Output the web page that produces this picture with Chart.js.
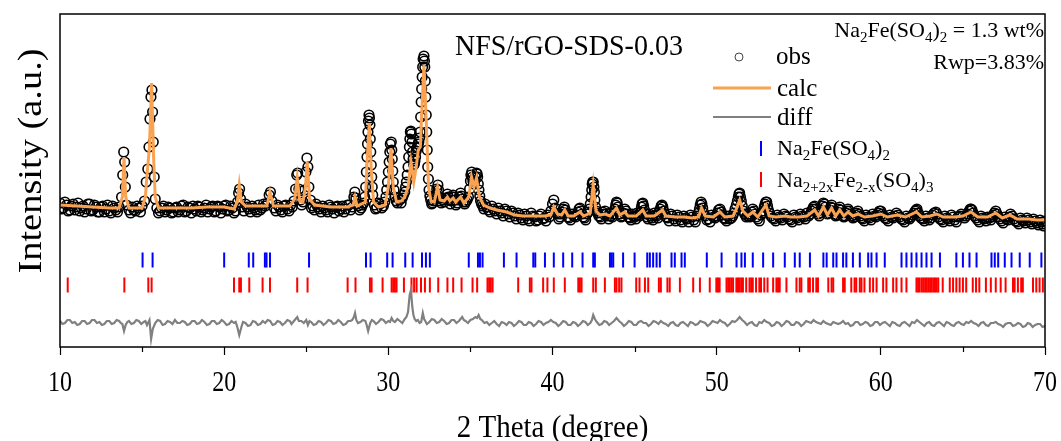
<!DOCTYPE html>
<html>
<head>
<meta charset="utf-8">
<title>NFS/rGO-SDS-0.03 Rietveld</title>
<script src="https://cdn.jsdelivr.net/npm/chart.js@4.4.1/dist/chart.umd.min.js"></script>
<style>
  html, body { margin: 0; padding: 0; background: #fff; }
  #wrap { width: 1061px; height: 441px; }
</style>
</head>
<body>
<div id="wrap"><canvas id="rietveldChart" width="1061" height="441"></canvas></div>
<script>
// ========================
// Données
// ========================

const xTicks = [10, 20, 30, 40, 50, 60, 70];
const xMinorTicks = [15, 25, 35, 45, 55, 65];

// Courbe calculée [2theta, intensité]
const calcPoints = [
  [10.0,142],[11.0,141],[12.0,140],[13.0,139],[13.6,139],[13.8,150],[13.9,190],[14.0,150],[14.2,139],
  [15.0,139],[15.2,150],[15.3,172],[15.45,200],[15.58,264],[15.7,190],[15.8,150],[16.0,139],[17.0,139],
  [18.0,139],[19.0,140],[20.0,140],[20.6,138],[20.8,145],[20.92,162],[21.05,145],[21.3,141],[22.0,141],
  [22.6,141],[22.79,155],[23.0,141],[24.0,141],[24.3,148],[24.45,169],[24.6,146],[24.8,145],[24.95,160],
  [25.06,185],[25.2,148],[25.5,142],[26.5,140],[27.5,140],[27.85,142],[27.97,150],[28.1,141],[28.6,145],
  [28.72,190],[28.84,224],[28.95,180],[29.1,145],[29.4,140],[29.8,142],[30.0,160],[30.16,199],[30.3,160],
  [30.5,145],[30.8,146],[31.0,150],[31.2,160],[31.38,185],[31.55,165],[31.7,180],[31.82,197],[31.95,200],
  [32.05,240],[32.17,282],[32.3,230],[32.45,160],[32.6,146],[32.8,145],[33.0,160],[33.15,147],[33.4,146],
  [33.6,150],[33.75,146],[33.95,149],[34.1,145],[34.4,150],[34.6,144],[34.9,150],[35.07,170],[35.22,160],
  [35.37,169],[35.55,150],[35.8,142],[36.2,139],[36.6,137],[37.2,135],[37.7,132],[38.2,131],[38.6,131],
  [39.0,131],[39.5,131],[39.9,132],[40.08,140],[40.3,133],[40.55,132],[40.75,137],[40.95,131],[41.3,131],
  [41.67,135],[41.9,131],[42.3,134],[42.48,162],[42.65,136],[42.9,132],[43.2,133],[43.5,131],[43.9,139],
  [44.1,132],[44.4,135],[44.6,131],[45.1,131],[45.5,137],[45.7,131],[46.2,131],[46.7,137],[46.9,131],
  [47.5,130],[48.0,130],[48.5,129],[48.9,130],[49.08,139],[49.3,131],[49.8,130],[50.2,135],[50.5,130],
  [51.0,131],[51.2,138],[51.4,147],[51.6,136],[51.9,131],[52.2,135],[52.5,130],[53.0,142],[53.2,131],
  [53.6,130],[54.2,131],[54.5,130],[55.0,130],[55.5,131],[55.97,137],[56.2,131],[56.5,140],[56.75,132],
  [57.0,139],[57.25,131],[57.5,137],[57.75,131],[58.0,135],[58.3,131],[58.6,133],[59.0,130],[59.5,131],
  [60.0,133],[60.4,130],[61.0,132],[61.5,130],[62.17,135],[62.5,130],[63.0,131],[63.4,133],[63.8,130],
  [64.5,130],[65.0,131],[65.5,135],[65.9,130],[66.5,130],[67.0,134],[67.4,129],[67.86,132],[68.3,128],
  [69.0,128],[69.5,127],[70.0,127]
];

// Points observés [2theta, intensité]
const obsPoints = [
  [10.0,144],[10.1,138],[10.2,139],[10.3,145],[10.4,142],[10.5,136],[10.6,137],[10.7,141],[10.8,143],
  [10.9,137],[11.0,140],[11.1,144],[11.2,136],[11.3,139],[11.4,141],[11.5,135],[11.6,138],[11.7,143],
  [11.8,143],[11.9,136],[12.0,137],[12.1,142],[12.2,140],[12.3,135],[12.4,135],[12.5,140],[12.6,141],
  [12.7,135],[12.8,138],[12.9,142],[13.0,136],[13.1,134],[13.2,141],[13.3,139],[13.4,137],[13.5,135],
  [13.6,140],[13.75,150],[13.82,172],[13.88,195],[13.94,185],[13.98,160],[14.05,142],[14.2,137],[14.3,134],
  [14.4,140],[14.5,137],[14.6,136],[14.7,141],[14.8,139],[14.9,135],[15.0,141],[15.15,146],[15.25,165],
  [15.35,178],[15.42,200],[15.48,228],[15.54,250],[15.6,257],[15.64,235],[15.68,205],[15.74,170],[15.8,148],
  [15.9,139],[16.0,134],[16.1,136],[16.2,139],[16.3,141],[16.4,135],[16.5,137],[16.6,140],[16.7,139],
  [16.8,134],[16.9,135],[17.0,139],[17.1,140],[17.2,135],[17.3,137],[17.4,141],[17.5,142],[17.6,135],
  [17.7,136],[17.8,140],[17.9,139],[18.0,134],[18.1,141],[18.2,138],[18.3,136],[18.4,141],[18.5,140],
  [18.6,135],[18.7,137],[18.8,139],[18.9,142],[19.0,135],[19.1,138],[19.2,140],[19.3,141],[19.4,135],
  [19.5,136],[19.6,141],[19.7,140],[19.8,134],[19.9,138],[20.0,141],[20.1,142],[20.2,136],[20.3,137],
  [20.4,141],[20.5,139],[20.6,134],[20.7,136],[20.82,145],[20.88,154],[20.94,158],[21.0,148],[21.1,140],
  [21.2,136],[21.3,143],[21.4,140],[21.5,138],[21.6,135],[21.7,141],[21.8,139],[21.9,137],[22.0,135],
  [22.1,142],[22.2,137],[22.3,139],[22.4,143],[22.5,141],[22.65,144],[22.74,152],[22.82,155],[22.9,146],
  [23.05,139],[23.15,136],[23.25,142],[23.35,140],[23.45,137],[23.55,135],[23.65,141],[23.75,142],
  [23.85,138],[23.95,136],[24.05,142],[24.15,140],[24.25,146],[24.35,158],[24.42,172],[24.48,174],
  [24.55,158],[24.65,147],[24.72,142],[24.8,145],[24.9,157],[24.98,175],[25.04,189],[25.1,180],[25.16,160],
  [25.25,147],[25.32,139],[25.4,141],[25.5,137],[25.6,143],[25.7,140],[25.8,138],[25.9,135],[26.0,141],
  [26.1,139],[26.2,137],[26.3,135],[26.4,142],[26.5,140],[26.6,138],[26.7,134],[26.8,140],[26.9,141],
  [27.0,136],[27.1,138],[27.2,141],[27.3,135],[27.4,138],[27.5,142],[27.6,142],[27.7,137],[27.8,140],
  [27.9,150],[27.96,155],[28.02,149],[28.08,143],[28.15,141],[28.25,137],[28.35,139],[28.42,142],[28.5,144],
  [28.56,150],[28.62,160],[28.66,175],[28.7,190],[28.73,203],[28.76,215],[28.79,226],[28.82,232],[28.85,229],
  [28.88,222],[28.9,208],[28.93,195],[28.96,182],[28.99,170],[29.02,160],[29.05,152],[29.15,142],[29.22,138],
  [29.3,139],[29.4,144],[29.5,143],[29.6,139],[29.7,141],[29.78,145],[29.85,150],[29.9,157],[29.95,165],
  [30.0,175],[30.05,185],[30.09,195],[30.12,203],[30.18,205],[30.21,197],[30.24,188],[30.27,176],[30.3,165],
  [30.35,157],[30.4,150],[30.48,146],[30.55,144],[30.62,149],[30.7,147],[30.78,144],[30.85,149],[30.92,152],
  [31.0,155],[31.05,160],[31.1,165],[31.15,172],[31.2,180],[31.24,190],[31.28,200],[31.31,208],[31.34,215],
  [31.37,216],[31.4,213],[31.44,205],[31.47,195],[31.51,188],[31.55,182],[31.58,183],[31.62,186],[31.66,190],
  [31.7,196],[31.74,199],[31.78,200],[31.82,203],[31.86,205],[31.9,209],[31.94,215],[31.97,230],[32.0,245],
  [32.03,258],[32.06,270],[32.09,280],[32.12,288],[32.17,291],[32.2,286],[32.22,280],[32.25,266],[32.28,250],
  [32.31,232],[32.34,215],[32.37,197],[32.4,180],[32.44,168],[32.48,157],[32.53,151],[32.58,147],[32.64,143],
  [32.7,144],[32.78,146],[32.85,148],[32.9,152],[32.95,158],[33.02,162],[33.06,157],[33.1,150],[33.16,146],
  [33.22,144],[33.28,149],[33.35,147],[33.42,145],[33.5,149],[33.6,153],[33.65,150],[33.7,147],[33.78,143],
  [33.85,146],[33.9,150],[33.95,152],[34.0,150],[34.05,147],[34.12,142],[34.2,144],[34.26,147],[34.32,150],
  [34.4,154],[34.44,151],[34.48,148],[34.56,145],[34.65,143],[34.72,145],[34.8,147],[34.88,150],[34.95,158],
  [35.0,166],[35.03,172],[35.08,175],[35.12,170],[35.15,166],[35.22,163],[35.26,166],[35.3,170],[35.37,174],
  [35.41,173],[35.44,170],[35.48,163],[35.52,157],[35.57,151],[35.62,146],[35.68,143],[35.75,141],[35.82,138],
  [35.9,143],[36.0,140],[36.1,137],[36.2,135],[36.3,141],[36.4,138],[36.5,136],[36.6,133],[36.7,139],
  [36.8,136],[36.9,134],[37.0,131],[37.1,138],[37.2,136],[37.3,133],[37.4,130],[37.5,136],[37.6,134],
  [37.7,131],[37.8,128],[37.9,134],[38.0,132],[38.1,129],[38.2,127],[38.3,133],[38.4,131],[38.5,128],
  [38.6,126],[38.7,134],[38.8,131],[38.9,130],[39.0,126],[39.1,127],[39.2,131],[39.3,133],[39.4,128],
  [39.5,129],[39.6,126],[39.7,132],[39.8,130],[39.9,136],[40.0,143],[40.08,147],[40.16,139],[40.23,134],
  [40.3,133],[40.38,128],[40.45,130],[40.52,133],[40.6,135],[40.66,138],[40.72,140],[40.78,137],[40.85,134],
  [40.92,130],[41.0,129],[41.1,127],[41.2,133],[41.3,131],[41.4,130],[41.48,132],[41.55,135],[41.62,138],
  [41.67,139],[41.73,136],[41.8,133],[41.88,130],[41.95,129],[42.02,127],[42.1,133],[42.18,135],[42.25,138],
  [42.3,143],[42.35,150],[42.39,157],[42.42,163],[42.45,165],[42.48,165],[42.52,160],[42.55,155],[42.58,147],
  [42.62,140],[42.68,136],[42.75,134],[42.82,131],[42.9,130],[42.98,128],[43.05,135],[43.12,133],[43.2,136],
  [43.28,133],[43.35,131],[43.42,128],[43.5,134],[43.58,131],[43.65,130],[43.72,133],[43.8,138],[43.85,142],
  [43.9,145],[43.94,144],[43.98,140],[44.04,136],[44.1,133],[44.18,130],[44.25,131],[44.32,134],[44.4,138],
  [44.48,136],[44.55,133],[44.62,130],[44.7,129],[44.78,127],[44.85,133],[44.92,131],[45.0,130],[45.08,128],
  [45.15,134],[45.22,132],[45.3,131],[45.36,135],[45.42,140],[45.46,143],[45.5,144],[45.55,141],[45.6,137],
  [45.68,133],[45.75,130],[45.82,128],[45.9,133],[45.98,131],[46.05,129],[46.12,127],[46.2,134],[46.28,132],
  [46.35,131],[46.42,129],[46.5,135],[46.56,138],[46.62,141],[46.67,142],[46.72,140],[46.78,136],[46.85,133],
  [46.92,130],[47.0,129],[47.1,126],[47.2,133],[47.3,131],[47.4,128],[47.5,126],[47.6,132],[47.7,130],
  [47.8,127],[47.9,125],[48.0,131],[48.1,129],[48.2,128],[48.3,125],[48.4,132],[48.5,130],[48.6,127],
  [48.7,125],[48.8,131],[48.88,134],[48.95,138],[49.0,142],[49.05,145],[49.1,143],[49.15,139],[49.22,134],
  [49.3,131],[49.4,127],[49.5,128],[49.6,125],[49.7,132],[49.8,130],[49.9,129],[49.98,131],[50.05,134],
  [50.12,137],[50.2,138],[50.28,135],[50.35,132],[50.42,129],[50.5,128],[50.6,126],[50.7,131],[50.8,128],
  [50.9,129],[50.98,131],[51.05,134],[51.12,138],[51.2,142],[51.26,146],[51.32,150],[51.36,153],[51.4,154],
  [51.45,150],[51.5,146],[51.56,141],[51.62,136],[51.7,133],[51.8,130],[51.88,131],[51.95,133],[52.02,130],
  [52.1,131],[52.15,135],[52.2,138],[52.28,136],[52.35,133],[52.42,130],[52.5,128],[52.6,126],[52.7,132],
  [52.78,134],[52.85,136],[52.9,140],[52.95,143],[53.0,145],[53.05,145],[53.1,141],[53.15,137],[53.22,134],
  [53.3,131],[53.4,129],[53.5,128],[53.6,126],[53.7,132],[53.8,130],[53.9,129],[54.0,127],[54.1,133],
  [54.2,131],[54.3,130],[54.4,128],[54.5,127],[54.6,125],[54.7,132],[54.8,130],[54.9,129],[55.0,127],
  [55.1,133],[55.2,131],[55.3,130],[55.4,128],[55.5,134],[55.6,131],[55.7,133],[55.78,136],[55.85,138],
  [55.9,140],[55.97,141],[56.03,138],[56.1,135],[56.18,133],[56.25,131],[56.32,134],[56.4,137],[56.45,141],
  [56.5,144],[56.56,143],[56.62,140],[56.68,136],[56.75,133],[56.82,134],[56.9,137],[56.95,140],[57.0,142],
  [57.06,139],[57.12,136],[57.18,133],[57.25,131],[57.32,132],[57.38,135],[57.44,138],[57.5,140],[57.56,137],
  [57.62,134],[57.68,131],[57.75,130],[57.82,131],[57.9,134],[57.95,136],[58.0,138],[58.08,136],[58.15,133],
  [58.22,131],[58.3,129],[58.38,130],[58.45,132],[58.52,134],[58.6,136],[58.68,133],[58.75,131],[58.82,129],
  [58.9,128],[59.0,126],[59.1,132],[59.2,130],[59.3,129],[59.4,127],[59.5,133],[59.6,131],[59.7,130],
  [59.78,132],[59.85,134],[59.92,136],[60.0,136],[60.08,133],[60.15,131],[60.25,129],[60.35,128],[60.45,126],
  [60.55,132],[60.65,130],[60.75,129],[60.85,131],[60.95,134],[61.05,132],[61.15,130],[61.25,128],[61.35,127],
  [61.45,125],[61.55,131],[61.65,129],[61.75,128],[61.85,130],[61.95,132],[62.02,134],[62.1,136],[62.15,137],
  [62.2,138],[62.28,134],[62.35,131],[62.45,129],[62.55,128],[62.65,126],[62.75,131],[62.85,129],[62.95,127],
  [63.05,129],[63.15,132],[63.25,134],[63.35,135],[63.42,133],[63.5,130],[63.6,128],[63.7,127],[63.8,125],
  [63.9,131],[64.0,129],[64.1,128],[64.2,126],[64.3,132],[64.4,130],[64.5,127],[64.6,125],[64.7,130],
  [64.8,131],[64.9,133],[65.0,131],[65.1,129],[65.2,131],[65.3,133],[65.38,136],[65.45,138],[65.5,138],
  [65.55,137],[65.62,134],[65.7,131],[65.8,129],[65.9,127],[66.0,125],[66.1,131],[66.2,129],[66.3,128],
  [66.4,126],[66.5,130],[66.6,129],[66.7,127],[66.78,130],[66.85,132],[66.92,134],[67.0,136],[67.08,133],
  [67.15,130],[67.25,128],[67.35,126],[67.45,124],[67.55,130],[67.65,128],[67.75,127],[67.82,130],[67.9,133],
  [68.0,131],[68.1,128],[68.2,126],[68.3,125],[68.4,123],[68.5,129],[68.6,127],[68.7,126],[68.8,124],
  [68.9,129],[69.0,127],[69.1,125],[69.2,123],[69.3,128],[69.4,126],[69.5,124],[69.6,122],[69.7,127],
  [69.8,125],[69.85,123],[69.92,121],[70.0,126]
];

// Courbe différence [2theta, intensité décalée]
const diffPoints = [
  [10.0,26],[10.15,23],[10.3,24],[10.45,27],[10.6,27],[10.75,24],[10.9,25],[11.05,22],[11.2,23],[11.35,26],
  [11.5,26],[11.65,23],[11.8,24],[11.95,27],[12.1,27],[12.25,24],[12.4,25],[12.55,22],[12.7,23],[12.85,26],
  [13.0,26],[13.15,23],[13.3,24],[13.45,27],[13.6,26],[13.7,24],[13.8,23],[13.9,16],[14.0,22],[14.1,25],
  [14.2,26],[14.35,23],[14.5,24],[14.65,27],[14.8,26],[14.95,23],[15.1,25],[15.2,26],[15.3,22],[15.45,27],
  [15.55,8],[15.65,18],[15.8,24],[15.95,27],[16.1,26],[16.25,22],[16.4,23],[16.55,26],[16.7,25],[16.85,23],
  [17.0,27],[17.15,24],[17.3,24],[17.45,26],[17.6,25],[17.75,22],[17.9,23],[18.05,26],[18.2,26],[18.35,23],
  [18.5,24],[18.65,27],[18.8,25],[18.95,22],[19.1,23],[19.25,26],[19.4,26],[19.55,23],[19.7,24],[19.85,27],
  [20.0,25],[20.15,22],[20.3,23],[20.45,26],[20.6,24],[20.7,25],[20.8,20],[20.92,12],[21.05,20],[21.15,25],
  [21.3,24],[21.45,21],[21.6,22],[21.75,26],[21.9,25],[22.05,22],[22.2,23],[22.35,26],[22.5,24],[22.65,27],
  [22.8,26],[22.95,22],[23.1,23],[23.25,26],[23.4,25],[23.55,22],[23.7,24],[23.85,27],[24.0,26],[24.1,23],
  [24.2,25],[24.3,27],[24.45,30],[24.55,26],[24.7,26],[24.85,24],[25.0,27],[25.1,22],[25.2,26],[25.3,25],
  [25.45,22],[25.6,23],[25.75,26],[25.9,25],[26.05,22],[26.2,24],[26.35,27],[26.5,26],[26.65,23],[26.8,24],
  [26.95,27],[27.1,25],[27.25,22],[27.4,23],[27.55,26],[27.7,26],[27.8,27],[27.9,30],[27.97,34],[28.05,27],
  [28.15,24],[28.3,25],[28.45,27],[28.6,26],[28.68,22],[28.77,16],[28.85,21],[28.9,24],[29.0,27],[29.1,26],
  [29.25,23],[29.4,25],[29.55,28],[29.7,27],[29.85,24],[30.0,26],[30.1,25],[30.2,29],[30.3,26],[30.4,25],
  [30.55,28],[30.7,26],[30.85,24],[31.0,28],[31.1,30],[31.2,35],[31.3,52],[31.38,57],[31.46,40],[31.53,32],
  [31.6,28],[31.7,26],[31.8,27],[31.9,24],[32.0,25],[32.1,34],[32.18,28],[32.25,26],[32.35,23],[32.5,25],
  [32.65,28],[32.8,27],[32.95,24],[33.1,25],[33.25,28],[33.4,26],[33.55,23],[33.7,24],[33.85,27],[34.0,27],
  [34.15,24],[34.3,26],[34.4,28],[34.5,30],[34.6,27],[34.7,26],[34.85,24],[35.0,27],[35.15,28],[35.3,30],
  [35.4,29],[35.5,32],[35.6,28],[35.7,27],[35.85,24],[36.0,25],[36.15,22],[36.3,24],[36.45,26],[36.6,23],
  [36.75,21],[36.9,25],[37.05,24],[37.2,22],[37.35,25],[37.5,24],[37.65,21],[37.8,23],[37.95,26],[38.1,25],
  [38.25,22],[38.4,22],[38.55,25],[38.7,24],[38.85,21],[39.0,23],[39.15,26],[39.3,25],[39.45,22],[39.6,24],
  [39.75,25],[39.9,27],[40.05,25],[40.2,24],[40.35,21],[40.5,23],[40.65,26],[40.8,25],[40.95,22],[41.1,22],
  [41.25,25],[41.4,24],[41.55,21],[41.7,23],[41.85,26],[42.0,25],[42.15,22],[42.3,24],[42.4,27],[42.48,32],
  [42.58,28],[42.7,25],[42.85,22],[43.0,23],[43.15,26],[43.3,25],[43.45,22],[43.6,24],[43.75,26],[43.9,29],
  [44.05,26],[44.2,24],[44.35,21],[44.5,23],[44.65,26],[44.8,25],[44.95,22],[45.1,22],[45.25,25],[45.4,26],
  [45.55,24],[45.7,24],[45.85,21],[46.0,23],[46.15,26],[46.3,25],[46.45,23],[46.6,26],[46.75,24],[46.9,23],
  [47.05,21],[47.2,24],[47.35,25],[47.5,22],[47.65,21],[47.8,24],[47.95,25],[48.1,23],[48.25,21],[48.4,25],
  [48.55,24],[48.7,22],[48.85,23],[49.0,26],[49.15,25],[49.3,24],[49.45,21],[49.6,23],[49.75,26],[49.9,25],
  [50.05,24],[50.2,27],[50.35,25],[50.5,24],[50.65,21],[50.8,23],[50.95,26],[51.1,25],[51.25,27],[51.4,30],
  [51.55,27],[51.7,25],[51.85,22],[52.0,24],[52.15,25],[52.3,22],[52.45,21],[52.6,25],[52.75,24],[52.9,27],
  [53.05,25],[53.2,24],[53.35,21],[53.5,22],[53.65,25],[53.8,24],[53.95,21],[54.1,23],[54.25,26],[54.4,25],
  [54.55,22],[54.7,22],[54.85,25],[55.0,24],[55.15,21],[55.3,23],[55.45,26],[55.6,25],[55.75,24],[55.9,27],
  [56.05,25],[56.2,24],[56.35,23],[56.5,26],[56.65,24],[56.8,23],[56.95,22],[57.1,25],[57.25,24],[57.4,23],
  [57.55,24],[57.7,26],[57.85,23],[58.0,24],[58.15,21],[58.3,22],[58.45,25],[58.6,25],[58.75,22],[58.9,23],
  [59.05,25],[59.2,24],[59.35,21],[59.5,22],[59.65,25],[59.8,25],[59.95,22],[60.1,24],[60.25,25],[60.4,23],
  [60.55,21],[60.7,25],[60.85,24],[61.0,22],[61.15,21],[61.3,24],[61.45,25],[61.6,23],[61.75,21],[61.9,25],
  [62.05,24],[62.2,27],[62.35,25],[62.5,23],[62.65,21],[62.8,24],[62.95,25],[63.1,22],[63.25,21],[63.4,24],
  [63.55,25],[63.7,23],[63.85,21],[64.0,25],[64.15,24],[64.3,22],[64.45,21],[64.6,24],[64.75,25],[64.9,23],
  [65.05,22],[65.2,25],[65.35,24],[65.5,26],[65.65,24],[65.8,23],[65.95,21],[66.1,24],[66.25,25],[66.4,22],
  [66.55,21],[66.7,24],[66.85,24],[67.0,25],[67.15,23],[67.3,22],[67.45,20],[67.6,23],[67.75,24],[67.9,24],
  [68.05,21],[68.2,22],[68.35,24],[68.5,23],[68.65,20],[68.8,21],[68.95,24],[69.1,23],[69.25,20],[69.4,22],
  [69.55,23],[69.7,23],[69.85,20],[70.0,21]
];

// Positions de Bragg, Na2Fe(SO4)2 (bleu)
const braggBlue = [
  15.03,15.64,20.0,21.5,21.77,22.48,22.58,22.79,25.17,28.64,28.92,29.93,30.26,31.03,31.48,32.05,32.29,
  32.53,34.9,35.46,35.58,35.74,37.04,37.81,38.83,38.95,39.54,40.08,40.65,41.2,41.83,42.48,42.58,43.5,
  43.6,43.7,44.3,45.0,45.77,45.93,46.13,46.34,46.54,47.25,47.45,47.86,48.06,49.4,50.3,51.21,51.51,51.72,
  52.2,52.83,53.44,54.15,54.76,55.06,55.68,56.5,56.7,57.1,57.3,57.7,57.9,58.3,58.72,59.23,59.43,59.74,
  60.24,61.26,61.56,61.87,62.17,62.48,62.78,63.09,63.6,64.6,65.0,65.4,65.83,66.74,66.94,67.15,67.55,
  67.96,68.46,69.07,69.78
];

// Positions de Bragg, Na2+2xFe2-x(SO4)3 (rouge)
const braggRed = [
  10.47,13.92,15.38,15.58,20.6,20.92,21.02,21.53,22.34,22.79,24.45,25.08,27.52,28.0,28.88,28.98,29.65,
  30.2,30.3,30.4,30.5,30.95,31.41,31.57,31.72,31.99,32.23,32.53,33.04,33.6,33.95,34.46,35.13,35.41,36.04,
  36.14,36.24,36.35,37.91,38.62,38.72,39.43,39.69,40.08,40.75,41.57,41.67,41.77,42.48,42.64,43.19,43.8,
  43.9,44.06,44.2,45.1,45.3,45.63,45.83,46.48,46.6,47.0,47.14,47.76,48.57,48.98,49.58,49.98,50.08,50.18,
  50.6,50.7,50.8,50.9,51.0,51.2,51.3,51.4,51.5,51.6,51.8,52.0,52.1,52.2,52.4,52.6,52.7,52.9,53.1,53.44,
  53.64,53.74,53.84,54.25,54.86,55.06,55.16,55.58,55.68,55.87,56.07,56.17,56.8,57.0,57.1,57.7,57.8,58.2,
  58.4,58.5,58.72,58.82,59.0,59.33,59.53,59.74,60.14,60.34,60.75,60.95,61.26,61.56,62.17,62.27,62.37,
  62.5,62.6,62.7,62.8,62.9,63.0,63.1,63.2,63.3,63.4,63.5,63.77,64.2,64.4,64.6,64.8,65.0,65.2,65.6,65.8,
  66.0,66.4,66.7,67.0,67.3,67.6,68.05,68.15,68.35,68.55,68.65,69.27,69.47,69.67,69.87
];

// Niveaux des rangées de traits (unités de l'axe Y)
const blueRowLevel = 87;
const redRowLevel = 62;

// ========================
// Utilitaires
// ========================

const FONT = '"Liberation Serif", "Times New Roman", serif';

function toXY(pairs) {
  return pairs.map(p => ({ x: p[0], y: p[1] }));
}

function toRow(positions, level) {
  return positions.map(x => ({ x: x, y: level }));
}

/**
 * Texte avec indices (parts: [texte, estIndice]); stretch = étirement vertical
 */
function drawRich(ctx, parts, x, y, size, align, stretch) {
  const subSize = Math.round(size * 0.68);
  let total = 0;
  parts.forEach(p => {
    ctx.font = (p[1] ? subSize : size) + 'px ' + FONT;
    total += ctx.measureText(p[0]).width;
  });
  let cx = 0;
  if (align === 'right') cx = -total;
  if (align === 'center') cx = -total / 2;
  ctx.save();
  ctx.translate(x, y);
  ctx.scale(1, stretch || 1);
  ctx.textAlign = 'left';
  ctx.textBaseline = 'alphabetic';
  ctx.fillStyle = '#000';
  const base = size * 0.33;
  parts.forEach(p => {
    ctx.font = (p[1] ? subSize : size) + 'px ' + FONT;
    ctx.fillText(p[0], cx, p[1] ? base + size * 0.22 : base);
    cx += ctx.measureText(p[0]).width;
  });
  ctx.restore();
}

// Cadre, graduations secondaires et textes
const decorPlugin = {
  id: 'decor',
  afterDraw(chart) {
    const ctx = chart.ctx;
    const area = chart.chartArea;
    const xs = chart.scales.x;
    ctx.save();

    // cadre
    ctx.strokeStyle = '#000';
    ctx.lineWidth = 1.5;
    ctx.strokeRect(area.left, area.top, area.right - area.left, area.bottom - area.top);

    // graduations secondaires
    ctx.lineWidth = 1.2;
    xMinorTicks.forEach(v => {
      const px = Math.round(xs.getPixelForValue(v)) + 0.5;
      ctx.beginPath();
      ctx.moveTo(px, area.bottom);
      ctx.lineTo(px, area.bottom + 5);
      ctx.stroke();
    });

    // étiquettes de l'axe X
    xTicks.forEach(v => {
      drawRich(ctx, [[String(v), false]], xs.getPixelForValue(v), 381, 24, 'center', 1.22);
    });

    // titres des axes
    drawRich(ctx, [['2 Theta (degree)', false]], (area.left + area.right) / 2, 426, 29, 'center', 1.12);
    ctx.save();
    ctx.translate(30, 161);
    ctx.rotate(-Math.PI / 2);
    ctx.scale(1.13, 1);
    drawRich(ctx, [['Intensity (a.u.)', false]], 0, 0, 34, 'center');
    ctx.restore();

    // titre de l'échantillon
    drawRich(ctx, [['NFS/rGO-SDS-0.03', false]], 455, 45, 28, 'left', 1.08);

    // informations d'affinement
    drawRich(ctx, [['Na', false], ['2', true], ['Fe(SO', false], ['4', true], [')', false], ['2', true], [' = 1.3 wt%', false]], 1044, 30, 22, 'right');
    drawRich(ctx, [['Rwp=3.83%', false]], 1044, 62, 22, 'right');

    // légende
    ctx.strokeStyle = '#444';
    ctx.lineWidth = 1;
    ctx.beginPath();
    ctx.arc(739, 57, 4, 0, Math.PI * 2);
    ctx.stroke();
    drawRich(ctx, [['obs', false]], 776, 56, 25, 'left');

    ctx.strokeStyle = '#F9A352';
    ctx.lineWidth = 3;
    ctx.beginPath();
    ctx.moveTo(713, 88);
    ctx.lineTo(771, 88);
    ctx.stroke();
    drawRich(ctx, [['calc', false]], 777, 88, 25, 'left');

    ctx.strokeStyle = '#808080';
    ctx.lineWidth = 2;
    ctx.beginPath();
    ctx.moveTo(713, 117);
    ctx.lineTo(771, 117);
    ctx.stroke();
    drawRich(ctx, [['diff', false]], 777, 117, 25, 'left');

    ctx.strokeStyle = '#0000FF';
    ctx.lineWidth = 2;
    ctx.beginPath();
    ctx.moveTo(761, 141);
    ctx.lineTo(761, 156);
    ctx.stroke();
    drawRich(ctx, [['Na', false], ['2', true], ['Fe(SO', false], ['4', true], [')', false], ['2', true]], 777, 148, 22, 'left');

    ctx.strokeStyle = '#FF0000';
    ctx.beginPath();
    ctx.moveTo(761, 172);
    ctx.lineTo(761, 187);
    ctx.stroke();
    drawRich(ctx, [['Na', false], ['2+2x', true], ['Fe', false], ['2-x', true], ['(SO', false], ['4', true], [')', false], ['3', true]], 777, 180, 22, 'left');

    ctx.restore();
  }
};

// ========================
// Graphique Chart.js
// ========================

const ctx = document.getElementById('rietveldChart');

const rietveldChart = new Chart(ctx, {
  type: 'scatter',
  data: {
    datasets: [
      {
        label: 'calc',
        data: toXY(calcPoints),
        showLine: true,
        borderColor: '#F9A352',
        borderWidth: 3,
        pointRadius: 0,
        order: 1
      },
      {
        label: 'obs',
        data: toXY(obsPoints),
        showLine: false,
        pointRadius: 4.8,
        pointBorderColor: '#000000',
        pointBackgroundColor: 'rgba(255,255,255,0)',
        pointBorderWidth: 1.6,
        order: 2
      },
      {
        label: 'diff',
        data: toXY(diffPoints),
        showLine: true,
        borderColor: '#808080',
        borderWidth: 2.2,
        pointRadius: 0,
        order: 3
      },
      {
        label: 'Na2Fe(SO4)2',
        data: toRow(braggBlue, blueRowLevel),
        pointStyle: 'line',
        rotation: 90,
        pointRadius: 7.5,
        pointBorderColor: '#0000FF',
        pointBorderWidth: 2,
        order: 4
      },
      {
        label: 'Na2+2xFe2-x(SO4)3',
        data: toRow(braggRed, redRowLevel),
        pointStyle: 'line',
        rotation: 90,
        pointRadius: 7.5,
        pointBorderColor: '#FF0000',
        pointBorderWidth: 2,
        order: 5
      }
    ]
  },
  options: {
    responsive: false,
    animation: false,
    devicePixelRatio: 1,
    layout: { padding: { top: 14, right: 16, left: 0, bottom: 0 } },
    plugins: {
      legend: { display: false },
      tooltip: { enabled: false }
    },
    scales: {
      x: {
        type: 'linear',
        min: 10,
        max: 70,
        afterBuildTicks: function(scale) {
          scale.ticks = xTicks.map(v => ({ value: v }));
        },
        ticks: { display: false },
        grid: {
          drawOnChartArea: false,
          drawTicks: true,
          tickLength: 8,
          tickColor: '#000',
          tickWidth: 1.2
        },
        border: { display: false },
        afterFit: function(scale) { scale.height = 94; }
      },
      y: {
        min: 0,
        max: 333,
        ticks: { display: false },
        grid: { display: false },
        border: { display: false },
        afterFit: function(scale) { scale.width = 60; }
      }
    }
  },
  plugins: [decorPlugin]
});
</script>
</body>
</html>
